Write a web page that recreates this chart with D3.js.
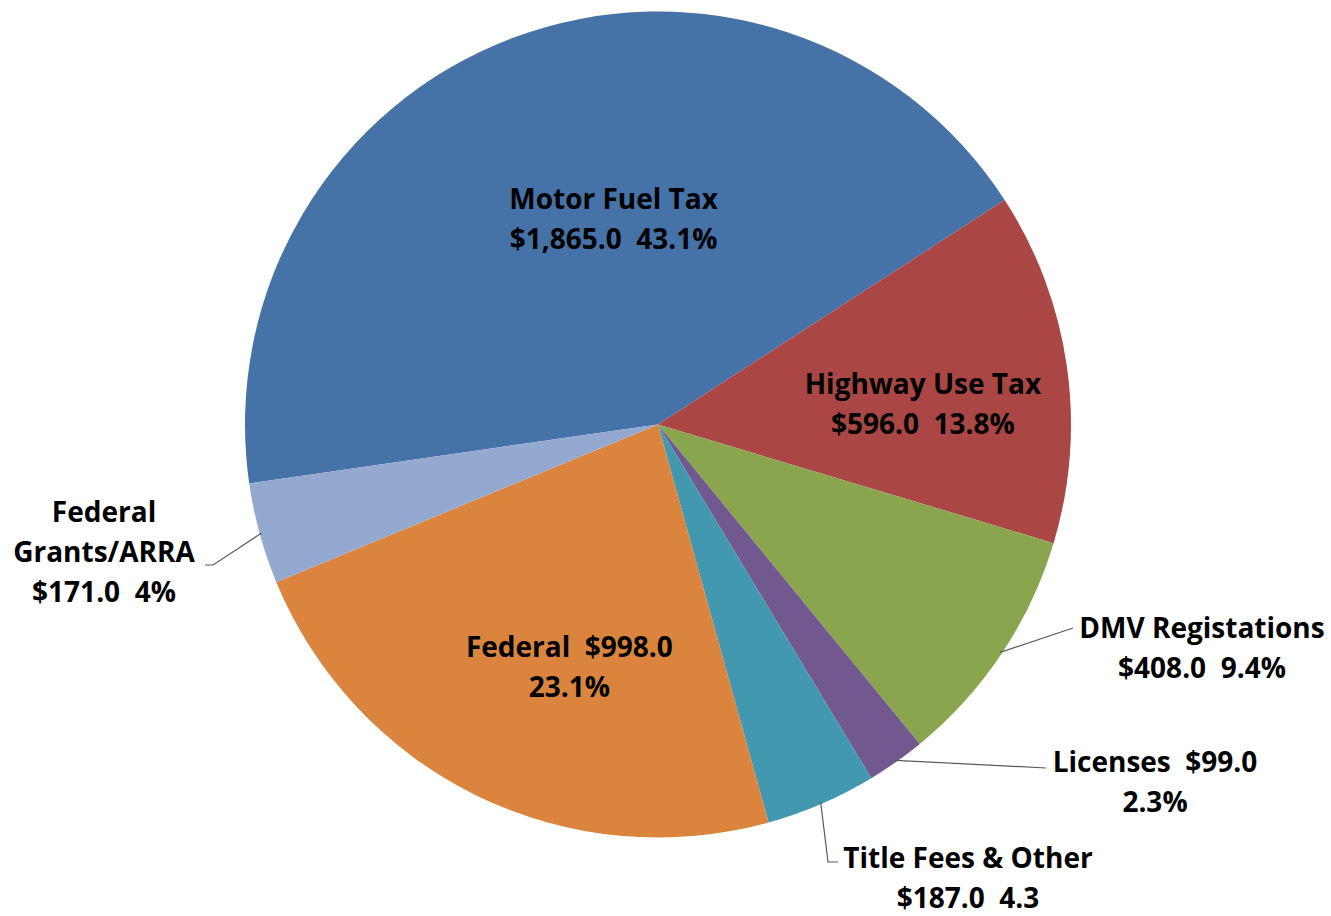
<!DOCTYPE html>
<html>
<head>
<meta charset="utf-8">
<script src="https://cdn.jsdelivr.net/npm/d3@7"></script>
<style>
  body { margin: 0; background: #fff; }
  svg text { font-family: "Open Sans", Lato, sans-serif; font-weight: bold; fill: #000; white-space: pre; }
</style>
</head>
<body>
<svg id="chart" width="1331" height="916"></svg>
<script>
// revenue sources, $ millions
var categories = ["Motor Fuel Tax", "Highway Use Tax", "DMV Registations", "Licenses", "Title Fees & Other", "Federal", "Federal Grants/ARRA"];
var values = [1865.0, 596.0, 408.0, 99.0, 187.0, 998.0, 171.0];
var colors = ["#4572A7", "#AA4643", "#89A54E", "#71588F", "#4198AF", "#DB843D", "#93A9CF"];
// label lines as printed on the chart
var labelLines = [
  ["Motor Fuel Tax", "$1,865.0  43.1%"],
  ["Highway Use Tax", "$596.0  13.8%"],
  ["DMV Registations", "$408.0  9.4%"],
  ["Licenses  $99.0", "2.3%"],
  ["Title Fees & Other", "$187.0  4.3"],
  ["Federal  $998.0", "23.1%"],
  ["Federal", "Grants/ARRA", "$171.0  4%"]
];

var cx = 658, cy = 424.5, r = 413;
var startDeg = -98.2;
var fontSize = 28, lineH = 40;

var data = categories.map(function(c, i) {
  return { name: c, value: values[i], color: colors[i], lines: labelLines[i] };
});

var pie = d3.pie()
  .value(function(d) { return d.value; })
  .sort(null)
  .startAngle(startDeg * Math.PI / 180)
  .endAngle((startDeg + 360) * Math.PI / 180);

var arc = d3.arc().innerRadius(0).outerRadius(r);

var svg = d3.select("#chart");
var g = svg.append("g").attr("transform", "translate(" + cx + "," + cy + ")");

var arcs = pie(data);

g.selectAll("path.slice")
  .data(arcs)
  .enter().append("path")
  .attr("class", "slice")
  .attr("d", arc)
  .attr("fill", function(d) { return d.data.color; });

var mid = function(d) { return (d.startAngle + d.endAngle) / 2; };
var onArc = function(a, rr) { return [Math.sin(a) * rr, -Math.cos(a) * rr]; };

// inside labels: radius fraction + nudge; outside labels: spot beside the pie + leader bends
var place = {
  "Motor Fuel Tax": { rf: 0.52, dx: 31, dy: -4 },
  "Highway Use Tax": { rf: 0.67, dx: -9, dy: 19 },
  "Federal": { rf: 0.55, dx: 11, dy: 39 },
  "DMV Registations": { out: [1202, 628], lead: [[1073, 628]] },
  "Licenses": { out: [1155, 762], lead: [[1046, 768]] },
  "Title Fees & Other": { out: [968, 858], lead: [[828, 862], [838, 862]] },
  "Federal Grants/ARRA": { out: [104, 552], lead: [[213, 565], [205, 565]] }
};

arcs.forEach(function(d) {
  var p = place[d.data.name];
  var lines = d.data.lines;
  var x, y, firstY;
  if (p.out) {
    x = p.out[0] - cx;
    y = p.out[1] - cy;
    var edge = onArc(mid(d), r - 2);
    var pts = [edge].concat(p.lead.map(function(q) { return [q[0] - cx, q[1] - cy]; }));
    g.append("path")
      .attr("d", d3.line()(pts))
      .attr("fill", "none")
      .attr("stroke", "#595959")
      .attr("stroke-width", 1.2);
    firstY = lines.length > 2 ? y - lineH : y;
  } else {
    var c = onArc(mid(d), r * p.rf);
    x = c[0] + p.dx;
    y = c[1] + p.dy;
    firstY = y - lineH * (lines.length - 1) / 2;
  }
  var t = g.append("text")
    .attr("text-anchor", "middle")
    .attr("font-size", fontSize);
  lines.forEach(function(s, i) {
    t.append("tspan")
      .attr("x", x)
      .attr("y", firstY + i * lineH)
      .attr("dy", "0.35em")
      .text(s);
  });
});
</script>
</body>
</html>
